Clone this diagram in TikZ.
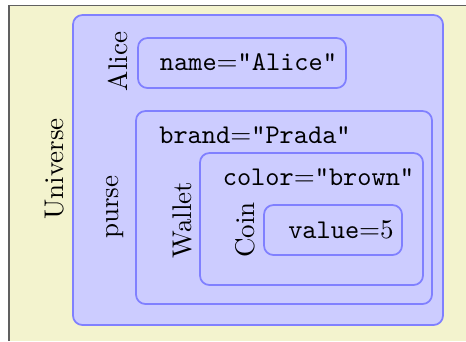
\documentclass[tikz,border=0pt]{standalone}
\definecolor{bgy}{HTML}{F3F3CE}
\definecolor{boxfill}{HTML}{CCCCFF}
\definecolor{boxline}{HTML}{8080FF}
\definecolor{framegray}{HTML}{606060}
\begin{document}
\begin{tikzpicture}[x=0.37pt,y=-0.37pt,
  box/.style={draw=boxline, fill=boxfill, rounded corners=3.5pt, line width=0.65pt, inner sep=0pt},
  lbl/.style={rotate=90, inner sep=0pt},
  txt/.style={inner sep=0pt}]
\useasboundingbox (0,0) rectangle (466,341);
\coordinate (fbl) at (9,341);
\coordinate (ftl) at (9,5.5);
\coordinate (ftr) at (466,5.5);
\fill[bgy] (fbl) rectangle (ftr);
\draw[framegray, line width=0.5pt] (fbl) -- (ftl) -- (ftr);
% boxes
\node[box, minimum width=136.9pt, minimum height=114.7pt] (universe) at (258,170) {};
\node[box, minimum width=76.96pt, minimum height=18.5pt] (alicebox) at (242,63) {};
\node[box, minimum width=109.52pt, minimum height=71.41pt] (purse) at (284,207.5) {};
\node[box, minimum width=82.51pt, minimum height=48.84pt] (wallet) at (311.5,219) {};
\node[box, minimum width=51.06pt, minimum height=18.5pt] (coinbox) at (333,230) {};
% labels
\node[lbl] (lUniverse) at (55,169) {Universe};
\node[lbl] (lAlice) at (118,61.5) {Alice};
\node[lbl] (lpurse) at (115,207) {purse};
\node[lbl] (lWallet) at (182,220) {Wallet};
\node[lbl] (lCoin) at (245,230) {Coin};
% attribute texts
\node[txt] (tname) at (248.5,62) {\texttt{name}$=$\texttt{"Alice"}};
\node[txt] (tbrand) at (255,135) {\texttt{brand}$=$\texttt{"Prada"}};
\node[txt] (tcolor) at (318.5,177) {\texttt{color}$=$\texttt{"brown"}};
\node[txt] (tvalue) at (341,230) {\texttt{value}$=$5};
\end{tikzpicture}
\end{document}
